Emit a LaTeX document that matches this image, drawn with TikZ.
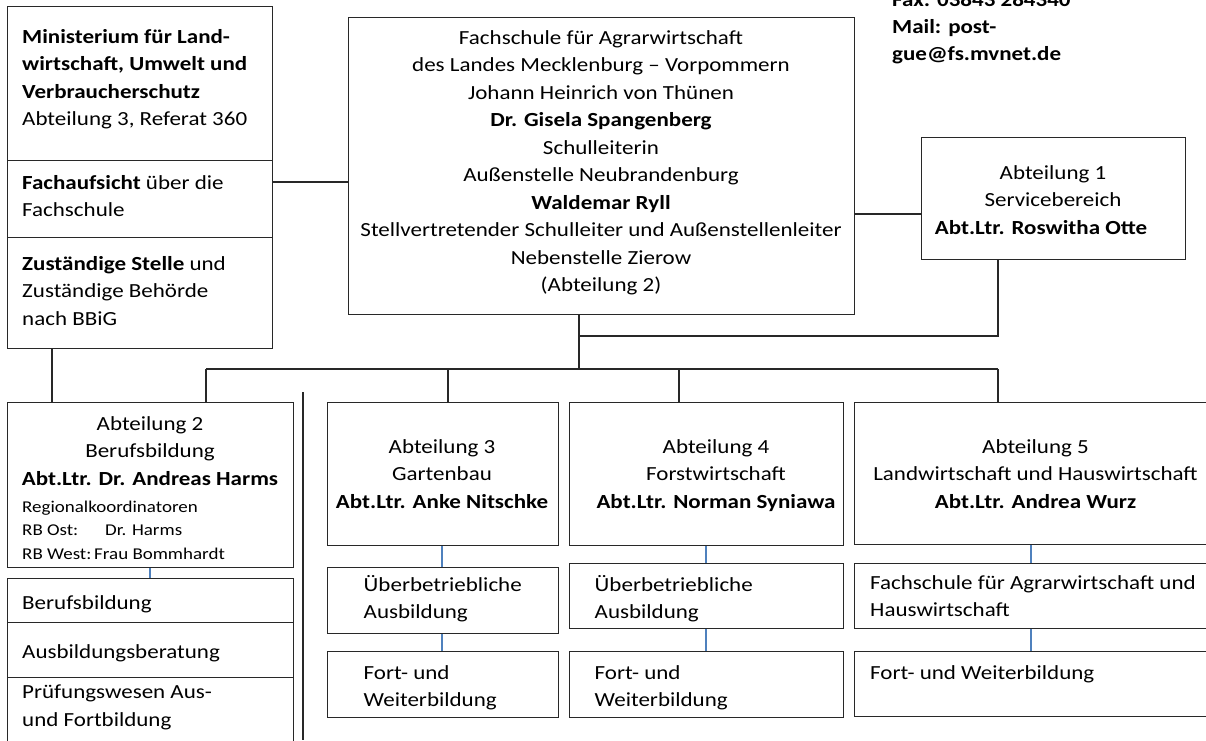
\documentclass[tikz,border=0pt]{standalone}
\usepackage{fontspec}
\setmainfont{Carlito}[FakeStretch=1.15]
\definecolor{linec}{RGB}{40,40,40}
\definecolor{bluec}{RGB}{79,129,189}
\begin{document}
\begin{tikzpicture}[x=1pt,y=-1pt,
  box/.style={draw=linec, line width=1.2pt, rectangle, inner sep=0pt, anchor=north west},
  conn/.style={draw=linec, line width=1.2pt},
  bconn/.style={draw=bluec, line width=1.2pt},
  txt/.style={inner sep=0pt, font=\fontsize{20}{27.5}\selectfont},
  ctxt/.style={txt, anchor=north, align=center},
  ltxt/.style={txt, anchor=north west, align=left},
  stxt/.style={inner sep=0pt, anchor=north west, align=left, font=\fontsize{16.5}{23.5}\selectfont}]
\useasboundingbox (0,0) rectangle (1206,740);

% boxes
\node[box, minimum width=265, minimum height=154] (min1) at (7,6) {};
\node[box, minimum width=265, minimum height=77]  (min2) at (7,160) {};
\node[box, minimum width=265, minimum height=111] (min3) at (7,237) {};
\node[box, minimum width=506, minimum height=297] (ctr)  at (348,17) {};
\node[box, minimum width=264, minimum height=122] (ab1)  at (921,137) {};
\node[box, minimum width=286, minimum height=165] (ab2)  at (7,402) {};
\node[box, minimum width=286, minimum height=44]  (l1)   at (7,578) {};
\node[box, minimum width=286, minimum height=55]  (l2)   at (7,622) {};
\node[box, minimum width=286, minimum height=80]  (l3)   at (7,677) {};
\node[box, minimum width=231, minimum height=143] (ab3)  at (327,402) {};
\node[box, minimum width=231, minimum height=66]  (ab3a) at (327,567) {};
\node[box, minimum width=231, minimum height=66]  (ab3b) at (327,651) {};
\node[box, minimum width=274, minimum height=143] (ab4)  at (569,402) {};
\node[box, minimum width=274, minimum height=65]  (ab4a) at (569,563) {};
\node[box, minimum width=274, minimum height=66]  (ab4b) at (569,651) {};
\node[box, minimum width=362, minimum height=142] (ab5)  at (854,402) {};
\node[box, minimum width=362, minimum height=65]  (ab5a) at (854,563) {};
\node[box, minimum width=362, minimum height=65]  (ab5b) at (854,651) {};

% coordinates
\coordinate (mc) at (272,182);
\coordinate (cc) at (854,214);
\coordinate (mdrop) at (52,348);
\coordinate (bus) at (579,369);
\coordinate (j1) at (579,336);
\coordinate (a1d) at (998,259);
\coordinate (b2) at (206,369);
\coordinate (b3) at (448,369);
\coordinate (b4) at (679,369);
\coordinate (b5) at (998,369);
\coordinate (septop) at (303,392);
\coordinate (sepbot) at (303,740);

% connectors
\draw[conn] (mc) -- (mc -| ctr.west);
\draw[conn] (cc) -- (cc -| ab1.west);
\draw[conn] (mdrop) -- (mdrop |- ab2.north);
\draw[conn] (bus |- ctr.south) -- (bus);
\draw[conn] (a1d) |- (j1);
\draw[conn] (b2) -- (b5);
\draw[conn] (b2) -- (b2 |- ab2.north);
\draw[conn] (b3) -- (b3 |- ab3.north);
\draw[conn] (b4) -- (b4 |- ab4.north);
\draw[conn] (b5) -- (b5 |- ab5.north);
\draw[conn] (septop) -- (sepbot);

\draw[bconn] ([xshift=143pt]ab2.south west) -- ([xshift=143pt]l1.north west);
\draw[bconn] ([xshift=115pt]ab3.south west) -- ([xshift=115pt]ab3a.north west);
\draw[bconn] ([xshift=115pt]ab3a.south west) -- ([xshift=115pt]ab3b.north west);
\draw[bconn] ([xshift=137pt]ab4.south west) -- ([xshift=137pt]ab4a.north west);
\draw[bconn] ([xshift=137pt]ab4a.south west) -- ([xshift=137pt]ab4b.north west);
\draw[bconn] ([xshift=177pt]ab5.south west) -- ([xshift=177pt]ab5a.north west);
\draw[bconn] ([xshift=177pt]ab5a.south west) -- ([xshift=177pt]ab5b.north west);

% texts
\node[ltxt] (tmin1) at (22,23.75) {\strut\textbf{Ministerium für Land-}\\\textbf{wirtschaft, Umwelt und}\\\textbf{Verbraucherschutz}\\Abteilung 3, Referat 360};
\node[ltxt] (tmin2) at (22,169.75) {\strut\textbf{Fachaufsicht} über die\\Fachschule};
\node[ltxt] (tmin3) at (22,250.75) {\strut\textbf{Zuständige Stelle} und\\Zuständige Behörde\\nach BBiG};

\node[ctxt] (tctr) at (601,24.75) {\strut Fachschule für Agrarwirtschaft\\des Landes Mecklenburg – Vorpommern\\Johann Heinrich von Thünen\\\textbf{Dr. Gisela Spangenberg}\\Schulleiterin\\Außenstelle Neubrandenburg\\\textbf{Waldemar Ryll}\\Stellvertretender Schulleiter und Außenstellenleiter\\Nebenstelle Zierow\\(Abteilung 2)};

\node[ctxt] (tab1) at (1053,160) {\strut Abteilung 1\\Servicebereich\\\textbf{Abt.Ltr. Roswitha Otte}\hspace*{24pt}};

\node[ctxt] (tab2) at (150,410.75) {\strut Abteilung 2\\Berufsbildung\\\textbf{Abt.Ltr. Dr. Andreas Harms}};
\node[stxt] (tab2s) at (22,495.5) {\strut Regionalkoordinatoren\\\makebox[83pt][l]{RB Ost:}Dr. Harms\\\makebox[72pt][l]{RB West:}Frau Bommhardt};

\node[ltxt] (tl1) at (22,589.75) {\strut Berufsbildung};
\node[ltxt] (tl2) at (22,638.75) {\strut Ausbildungsberatung};
\node[ltxt] (tl3) at (22,679.5) {\strut Prüfungswesen Aus-\\und Fortbildung};

\node[ctxt] (tab3) at (442,433.75) {\strut Abteilung 3\\Gartenbau\\\textbf{Abt.Ltr. Anke Nitschke}};
\node[ctxt] (tab4) at (716,433.75) {\strut Abteilung 4\\Forstwirtschaft\\\textbf{Abt.Ltr. Norman Syniawa}};
\node[ctxt] (tab5) at (1035.5,433.75) {\strut Abteilung 5\\Landwirtschaft und Hauswirtschaft\\\textbf{Abt.Ltr. Andrea Wurz}};

\node[ltxt] (tab3a) at (363.5,571.75) {\strut Überbetriebliche\\Ausbildung};
\node[ltxt] (tab3b) at (363.5,659.75) {\strut Fort- und\\Weiterbildung};
\node[ltxt] (tab4a) at (594.5,571.75) {\strut Überbetriebliche\\Ausbildung};
\node[ltxt] (tab4b) at (594.5,659.75) {\strut Fort- und\\Weiterbildung};
\node[ltxt] (tab5a) at (870,570) {\strut Fachschule für Agrarwirtschaft und\\Hauswirtschaft};
\node[ltxt] (tab5b) at (870,659.75) {\strut Fort- und Weiterbildung};

\node[txt, anchor=north west, align=left, font=\fontsize{20}{27}\selectfont\bfseries] (contact) at (892,-13) {\strut Fax: 03843 284340\\Mail: post-\\gue@fs.mvnet.de};
\end{tikzpicture}
\end{document}
